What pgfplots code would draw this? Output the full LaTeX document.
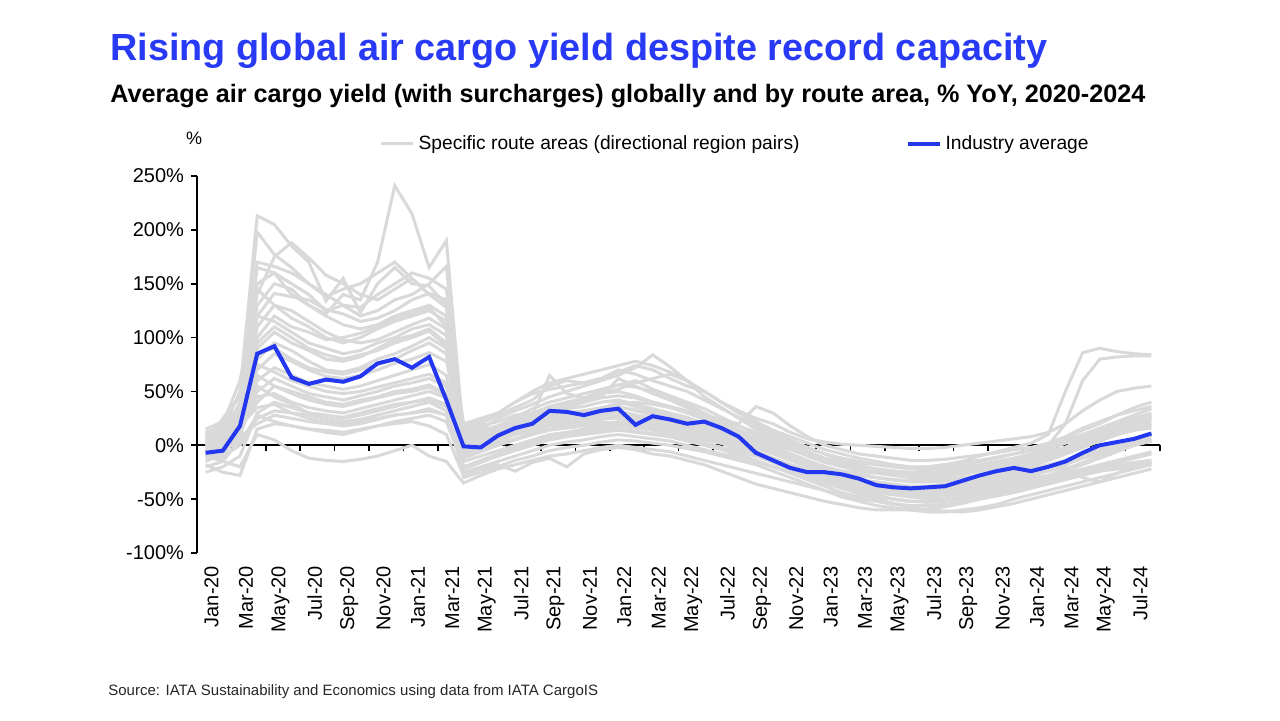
\documentclass[border=0pt]{standalone}
\usepackage{pgfplots}
\pgfplotsset{compat=1.18}
\usepackage{fontspec}
\setmainfont{Liberation Sans}
\definecolor{ttl}{RGB}{40,58,245}
\definecolor{lgray}{RGB}{217,217,217}
\definecolor{avgblue}{RGB}{35,55,240}
\pgfplotsset{gl/.style={lgray, line width=1.5pt, forget plot}}
\newcommand{\gl}[1]{\addplot[gl] table[x expr=\coordindex, y index=0, row sep=\\] {v\\ #1\\};}
\begin{document}
\begin{tikzpicture}
\path[use as bounding box] (0pt,0pt) rectangle (640pt,360pt);
\node[anchor=base west, text=ttl, font=\fontsize{18.9pt}{22pt}\selectfont\bfseries, inner sep=0] at (55pt,330pt) {Rising global air cargo yield despite record capacity};
\node[anchor=base west, text=black, font=\fontsize{12.6pt}{15pt}\selectfont\bfseries, inner sep=0] at (55pt,309pt) {Average air cargo yield (with surcharges) globally and by route area, \% YoY, 2020-2024};
\node[anchor=base west, text=black!85, font=\fontsize{7.5pt}{9pt}\selectfont, inner sep=0] at (54pt,12.5pt) {Source: IATA Sustainability and Economics using data from IATA CargoIS};
\node[anchor=base, font=\fontsize{9pt}{11pt}\selectfont, inner sep=0] at (97pt,288pt) {\%};
% zero line with its ticks
\begin{axis}[at={(98.5pt,83.5pt)}, anchor=south west, scale only axis, width=481.5pt, height=188.5pt,
  xmin=-0.5, xmax=55.5, ymin=-100, ymax=250,
  axis x line*=middle, axis y line=none,
  x axis line style={black, line width=0.8pt},
  xtick={-0.5,1.5,...,55.5}, xticklabels={}, ytick=\empty,
  tick align=outside, major tick length=3pt,
  x tick style={black, line width=0.8pt}]
\end{axis}
\begin{axis}[at={(98.5pt,83.5pt)}, anchor=south west, scale only axis, width=481.5pt, height=188.5pt,
  xmin=-0.5, xmax=55.5, ymin=-100, ymax=250,
  axis y line*=left, axis x line*=bottom,
  x axis line style={draw=none},
  y axis line style={black, line width=0.8pt},
  ytick={-100,-50,...,250},
  yticklabels={-100\%,-50\%,0\%,50\%,100\%,150\%,200\%,250\%},
  tick align=outside, major tick length=3pt,
  y tick style={black, line width=0.8pt},
  x tick style={draw=none},
  xtick={0,2,...,54},
  xticklabels={Jan-20,Mar-20,May-20,Jul-20,Sep-20,Nov-20,Jan-21,Mar-21,May-21,Jul-21,Sep-21,Nov-21,Jan-22,Mar-22,May-22,Jul-22,Sep-22,Nov-22,Jan-23,Mar-23,May-23,Jul-23,Sep-23,Nov-23,Jan-24,Mar-24,May-24,Jul-24},
  tick label style={font=\fontsize{10pt}{12pt}\selectfont},
  x tick label style={rotate=90, anchor=east, yshift=-3pt},
  legend columns=2,
  legend style={at={(0.183,1.085)}, anchor=west, draw=none, fill=none,
    font=\fontsize{9.6pt}{11pt}\selectfont,
    /tikz/every even column/.append style={column sep=51pt}},
  legend cell align=left,
  legend image code/.code={\draw[#1] (0pt,0pt) -- (16pt,0pt);},
  clip=false]
\gl{-5\\ 8\\ 35\\ 150\\ 160\\ 140\\ 130\\ 122\\ 140\\ 135\\ 170\\ 241\\ 215\\ 165\\ 190\\ 8\\ 12\\ 18\\ 22\\ 28\\ 35\\ 38\\ 42\\ 48\\ 50\\ 46\\ 40\\ 36\\ 30\\ 25\\ 20\\ 14\\ 8\\ 0\\ -8\\ -15\\ -20\\ -24\\ -26\\ -30\\ -32\\ -33\\ -31\\ -29\\ -27\\ -24\\ -21\\ -18\\ -14\\ -10\\ -4\\ 4\\ 10\\ 14\\ 17\\ 20}
\gl{5\\ 15\\ 50\\ 213\\ 205\\ 185\\ 170\\ 134\\ 155\\ 123\\ 150\\ 165\\ 150\\ 148\\ 130\\ -5\\ 2\\ 8\\ 15\\ 20\\ 25\\ 22\\ 28\\ 30\\ 32\\ 28\\ 25\\ 22\\ 18\\ 12\\ 8\\ 2\\ -5\\ -12\\ -20\\ -28\\ -35\\ -40\\ -44\\ -47\\ -50\\ -52\\ -52\\ -50\\ -48\\ -45\\ -40\\ -36\\ -32\\ -28\\ -22\\ -16\\ -10\\ -5\\ 0\\ 4}
\gl{0\\ 10\\ 40\\ 198\\ 177\\ 165\\ 150\\ 140\\ 130\\ 120\\ 125\\ 135\\ 140\\ 150\\ 166\\ 10\\ 15\\ 25\\ 32\\ 38\\ 45\\ 50\\ 55\\ 60\\ 65\\ 72\\ 84\\ 73\\ 60\\ 45\\ 35\\ 25\\ 15\\ 8\\ 2\\ -3\\ -8\\ -12\\ -15\\ -18\\ -20\\ -21\\ -20\\ -18\\ -15\\ -10\\ -6\\ -2\\ 2\\ 10\\ 50\\ 86\\ 90\\ 87\\ 85\\ 84}
\gl{-10\\ 5\\ 30\\ 170\\ 166\\ 160\\ 150\\ 138\\ 145\\ 150\\ 160\\ 170\\ 155\\ 140\\ 135\\ 12\\ 18\\ 22\\ 28\\ 30\\ 32\\ 30\\ 28\\ 26\\ 25\\ 22\\ 20\\ 18\\ 15\\ 12\\ 10\\ 6\\ 2\\ -4\\ -10\\ -16\\ -22\\ -28\\ -32\\ -35\\ -38\\ -40\\ -40\\ -39\\ -37\\ -35\\ -32\\ -28\\ -25\\ -20\\ -15\\ -10\\ -4\\ 2\\ 6\\ 10}
\gl{10\\ 20\\ 60\\ 140\\ 175\\ 188\\ 174\\ 158\\ 150\\ 140\\ 135\\ 145\\ 155\\ 140\\ 128\\ 5\\ 10\\ 16\\ 20\\ 24\\ 30\\ 35\\ 40\\ 45\\ 62\\ 55\\ 48\\ 42\\ 35\\ 28\\ 22\\ 18\\ 12\\ 6\\ 0\\ -6\\ -12\\ -16\\ -20\\ -22\\ -24\\ -25\\ -24\\ -22\\ -20\\ -18\\ -15\\ -12\\ -8\\ 0\\ 20\\ 60\\ 80\\ 82\\ 83\\ 83}
\gl{-15\\ -8\\ 10\\ 120\\ 141\\ 138\\ 135\\ 126\\ 122\\ 115\\ 118\\ 125\\ 135\\ 141\\ 135\\ -10\\ -5\\ 0\\ 5\\ 10\\ 15\\ 18\\ 20\\ 22\\ 20\\ 18\\ 15\\ 12\\ 8\\ 5\\ 2\\ -2\\ -8\\ -14\\ -20\\ -26\\ -32\\ -38\\ -42\\ -46\\ -50\\ -52\\ -53\\ -52\\ -50\\ -47\\ -44\\ -40\\ -36\\ -32\\ -28\\ -24\\ -20\\ -16\\ -12\\ -8}
\gl{8\\ 15\\ 25\\ 100\\ 120\\ 110\\ 105\\ 98\\ 100\\ 104\\ 110\\ 118\\ 122\\ 128\\ 110\\ 15\\ 20\\ 28\\ 35\\ 42\\ 55\\ 60\\ 58\\ 62\\ 68\\ 74\\ 70\\ 62\\ 55\\ 50\\ 40\\ 32\\ 25\\ 20\\ 12\\ 6\\ 3\\ 1\\ 0\\ -1\\ -2\\ -3\\ -3\\ -2\\ 0\\ 2\\ 4\\ 6\\ 8\\ 12\\ 20\\ 32\\ 42\\ 50\\ 53\\ 55}
\gl{-20\\ -15\\ 5\\ 90\\ 105\\ 95\\ 88\\ 80\\ 78\\ 82\\ 90\\ 98\\ 102\\ 108\\ 95\\ -20\\ -15\\ -10\\ -5\\ 0\\ 5\\ 8\\ 10\\ 12\\ 14\\ 12\\ 10\\ 8\\ 5\\ 2\\ -2\\ -6\\ -10\\ -16\\ -22\\ -28\\ -34\\ -40\\ -45\\ -50\\ -54\\ -58\\ -60\\ -61\\ -62\\ -60\\ -57\\ -54\\ -50\\ -46\\ -42\\ -38\\ -34\\ -30\\ -26\\ -22}
\gl{5\\ 0\\ 15\\ 80\\ 95\\ 88\\ 78\\ 70\\ 68\\ 72\\ 80\\ 85\\ 92\\ 100\\ 90\\ 0\\ 8\\ 12\\ 18\\ 22\\ 28\\ 30\\ 32\\ 35\\ 38\\ 40\\ 38\\ 35\\ 30\\ 24\\ 18\\ 12\\ 5\\ -2\\ -8\\ -14\\ -20\\ -25\\ -28\\ -30\\ -32\\ -34\\ -34\\ -33\\ -31\\ -28\\ -24\\ -20\\ -16\\ -12\\ -6\\ 2\\ 8\\ 14\\ 20\\ 26}
\gl{-5\\ 5\\ 20\\ 60\\ 72\\ 65\\ 58\\ 55\\ 52\\ 55\\ 60\\ 65\\ 70\\ 75\\ 65\\ -8\\ -2\\ 5\\ 10\\ 15\\ 20\\ 22\\ 25\\ 28\\ 30\\ 28\\ 25\\ 22\\ 18\\ 14\\ 10\\ 5\\ -2\\ -8\\ -14\\ -20\\ -26\\ -30\\ -34\\ -36\\ -38\\ -40\\ -40\\ -38\\ -36\\ -33\\ -30\\ -26\\ -22\\ -18\\ -14\\ -10\\ -6\\ -2\\ 2\\ 6}
\gl{0\\ -5\\ 10\\ 50\\ 62\\ 55\\ 48\\ 45\\ 42\\ 46\\ 50\\ 55\\ 58\\ 62\\ 55\\ -15\\ -10\\ -5\\ 0\\ 5\\ 10\\ 12\\ 15\\ 18\\ 20\\ 18\\ 16\\ 14\\ 10\\ 6\\ 2\\ -4\\ -10\\ -16\\ -22\\ -28\\ -32\\ -36\\ -40\\ -42\\ -44\\ -46\\ -46\\ -45\\ -43\\ -40\\ -37\\ -34\\ -30\\ -28\\ -26\\ -24\\ -22\\ -20\\ -18\\ -16}
\gl{12\\ 18\\ 30\\ 130\\ 150\\ 145\\ 130\\ 120\\ 112\\ 108\\ 112\\ 120\\ 125\\ 130\\ 120\\ 20\\ 25\\ 30\\ 40\\ 48\\ 52\\ 55\\ 58\\ 62\\ 70\\ 66\\ 60\\ 55\\ 50\\ 42\\ 34\\ 26\\ 18\\ 10\\ 4\\ -2\\ -8\\ -12\\ -16\\ -18\\ -20\\ -22\\ -22\\ -20\\ -18\\ -15\\ -12\\ -8\\ -4\\ 0\\ 6\\ 14\\ 20\\ 28\\ 35\\ 40}
\gl{-25\\ -20\\ -10\\ 30\\ 40\\ 35\\ 30\\ 28\\ 25\\ 28\\ 32\\ 36\\ 40\\ 44\\ 38\\ -30\\ -25\\ -20\\ -14\\ -10\\ -5\\ -2\\ 0\\ 3\\ 5\\ 4\\ 2\\ 0\\ -3\\ -6\\ -10\\ -14\\ -18\\ -24\\ -30\\ -36\\ -42\\ -48\\ -52\\ -56\\ -58\\ -60\\ -62\\ -62\\ -60\\ -58\\ -55\\ -50\\ -46\\ -42\\ -38\\ -34\\ -30\\ -26\\ -22\\ -18}
\gl{-10\\ -15\\ -20\\ 10\\ 5\\ -5\\ -12\\ -14\\ -15\\ -13\\ -10\\ -5\\ 0\\ -10\\ -15\\ -35\\ -28\\ -22\\ -18\\ -14\\ -10\\ -8\\ -5\\ -2\\ 0\\ -2\\ -4\\ -6\\ -10\\ -14\\ -18\\ -22\\ -26\\ -30\\ -34\\ -38\\ -42\\ -46\\ -50\\ -52\\ -54\\ -56\\ -56\\ -55\\ -53\\ -50\\ -47\\ -44\\ -40\\ -36\\ -32\\ -28\\ -24\\ -20\\ -16\\ -14}
\gl{0\\ 5\\ 15\\ 40\\ 55\\ 50\\ 45\\ 40\\ 38\\ 42\\ 45\\ 50\\ 52\\ 56\\ 48\\ 5\\ 10\\ 15\\ 20\\ 25\\ 28\\ 30\\ 32\\ 30\\ 28\\ 26\\ 24\\ 20\\ 16\\ 12\\ 8\\ 4\\ 0\\ -5\\ -10\\ -15\\ -20\\ -24\\ -28\\ -30\\ -32\\ -33\\ -33\\ -32\\ -30\\ -28\\ -25\\ -22\\ -18\\ -12\\ -6\\ 0\\ 6\\ 12\\ 18\\ 24}
\gl{-8\\ -2\\ 8\\ 20\\ 28\\ 25\\ 22\\ 20\\ 18\\ 20\\ 24\\ 28\\ 30\\ 34\\ 28\\ -25\\ -20\\ -15\\ -10\\ -5\\ 0\\ 3\\ 5\\ 8\\ 10\\ 8\\ 6\\ 4\\ 0\\ -4\\ -8\\ -12\\ -16\\ -20\\ -25\\ -30\\ -35\\ -40\\ -44\\ -48\\ -50\\ -52\\ -52\\ -50\\ -48\\ -46\\ -43\\ -40\\ -36\\ -30\\ -24\\ -18\\ -12\\ -6\\ 0\\ 5}
\gl{3\\ 10\\ 22\\ 70\\ 85\\ 78\\ 70\\ 64\\ 62\\ 65\\ 70\\ 76\\ 80\\ 86\\ 78\\ 10\\ 14\\ 18\\ 24\\ 30\\ 36\\ 40\\ 44\\ 48\\ 52\\ 58\\ 62\\ 66\\ 60\\ 50\\ 40\\ 30\\ 20\\ 12\\ 5\\ -2\\ -8\\ -14\\ -18\\ -22\\ -24\\ -26\\ -26\\ -25\\ -23\\ -20\\ -16\\ -12\\ -8\\ -4\\ 2\\ 8\\ 14\\ 20\\ 25\\ 30}
\gl{-12\\ -6\\ 5\\ 110\\ 130\\ 125\\ 115\\ 105\\ 98\\ 95\\ 98\\ 105\\ 112\\ 118\\ 108\\ -5\\ 0\\ 6\\ 12\\ 18\\ 24\\ 28\\ 30\\ 33\\ 35\\ 33\\ 30\\ 26\\ 22\\ 18\\ 12\\ 6\\ 0\\ -6\\ -12\\ -18\\ -24\\ -30\\ -35\\ -40\\ -44\\ -48\\ -50\\ -50\\ -48\\ -45\\ -42\\ -38\\ -34\\ -30\\ -26\\ -22\\ -18\\ -14\\ -10\\ -6}
\gl{6\\ 12\\ 18\\ 45\\ 48\\ 40\\ 35\\ 32\\ 30\\ 34\\ 38\\ 42\\ 46\\ 50\\ 44\\ 2\\ 6\\ 10\\ 14\\ 18\\ 22\\ 26\\ 30\\ 34\\ 36\\ 32\\ 28\\ 24\\ 20\\ 16\\ 12\\ 8\\ 4\\ 0\\ -4\\ -8\\ -12\\ -16\\ -20\\ -22\\ -24\\ -26\\ -26\\ -25\\ -23\\ -20\\ -17\\ -14\\ -10\\ -6\\ -2\\ 4\\ 10\\ 16\\ 22\\ 28}
\gl{-18\\ -25\\ -28\\ 15\\ 20\\ 18\\ 15\\ 12\\ 10\\ 14\\ 18\\ 22\\ 25\\ 28\\ 22\\ -20\\ -14\\ -8\\ -2\\ 4\\ 8\\ 12\\ 14\\ 16\\ 18\\ 16\\ 14\\ 10\\ 6\\ 2\\ -2\\ -8\\ -14\\ -20\\ -26\\ -32\\ -38\\ -44\\ -48\\ -52\\ -55\\ -56\\ -56\\ -55\\ -53\\ -50\\ -46\\ -42\\ -38\\ -34\\ -30\\ -26\\ -22\\ -18\\ -16\\ -14}
\gl{2\\ 25\\ 45\\ 165\\ 160\\ 150\\ 140\\ 125\\ 130\\ 128\\ 140\\ 150\\ 160\\ 155\\ 145\\ 18\\ 22\\ 30\\ 40\\ 50\\ 58\\ 62\\ 66\\ 70\\ 74\\ 78\\ 74\\ 68\\ 60\\ 50\\ 40\\ 30\\ 22\\ 14\\ 8\\ 2\\ -4\\ -8\\ -12\\ -15\\ -18\\ -20\\ -20\\ -18\\ -16\\ -14\\ -11\\ -8\\ -5\\ -2\\ 4\\ 10\\ 16\\ 22\\ 28\\ 34}
\gl{-5\\ 2\\ 12\\ 85\\ 90\\ 80\\ 72\\ 68\\ 66\\ 70\\ 75\\ 80\\ 88\\ 95\\ 85\\ -12\\ -6\\ 0\\ 6\\ 12\\ 18\\ 20\\ 22\\ 24\\ 26\\ 24\\ 22\\ 18\\ 14\\ 10\\ 6\\ 0\\ -6\\ -12\\ -18\\ -24\\ -30\\ -34\\ -38\\ -40\\ -42\\ -44\\ -44\\ -43\\ -41\\ -38\\ -35\\ -32\\ -28\\ -24\\ -18\\ -12\\ -6\\ 0\\ 4\\ 8}
\gl{10\\ 5\\ 20\\ 55\\ 45\\ 38\\ 30\\ 28\\ 26\\ 30\\ 34\\ 38\\ 40\\ 42\\ 36\\ 8\\ 12\\ 16\\ 20\\ 26\\ 32\\ 36\\ 40\\ 44\\ 46\\ 44\\ 40\\ 36\\ 32\\ 28\\ 24\\ 20\\ 36\\ 30\\ 18\\ 8\\ 0\\ -4\\ -8\\ -10\\ -12\\ -14\\ -14\\ -13\\ -11\\ -9\\ -7\\ -4\\ -2\\ 2\\ 8\\ 16\\ 22\\ 28\\ 32\\ 36}
\gl{-3\\ -10\\ 0\\ 25\\ 32\\ 30\\ 28\\ 25\\ 22\\ 24\\ 28\\ 32\\ 36\\ 40\\ 32\\ -22\\ -16\\ -10\\ -4\\ 2\\ 6\\ 10\\ 12\\ 14\\ 15\\ 13\\ 11\\ 8\\ 4\\ 0\\ -4\\ -10\\ -14\\ -20\\ -25\\ -30\\ -34\\ -38\\ -42\\ -44\\ -46\\ -48\\ -48\\ -47\\ -45\\ -42\\ -38\\ -35\\ -32\\ -30\\ -28\\ -26\\ -24\\ -22\\ -20\\ -18}
\gl{4\\ 8\\ 28\\ 120\\ 115\\ 105\\ 95\\ 90\\ 85\\ 88\\ 95\\ 100\\ 108\\ 112\\ 102\\ 0\\ 5\\ 10\\ 16\\ 22\\ 30\\ 34\\ 36\\ 40\\ 42\\ 38\\ 34\\ 30\\ 26\\ 20\\ 14\\ 8\\ 2\\ -4\\ -10\\ -16\\ -22\\ -28\\ -32\\ -34\\ -36\\ -38\\ -38\\ -36\\ -34\\ -31\\ -28\\ -24\\ -20\\ -14\\ -8\\ -2\\ 4\\ 10\\ 14\\ 18}
\gl{-2\\ 3\\ 18\\ 35\\ 38\\ 30\\ 25\\ 22\\ 20\\ 22\\ 25\\ 28\\ 30\\ 32\\ 28\\ -8\\ -2\\ 2\\ 6\\ 10\\ 14\\ 16\\ 18\\ 20\\ 22\\ 20\\ 18\\ 14\\ 10\\ 6\\ 2\\ -3\\ -8\\ -14\\ -20\\ -24\\ -28\\ -32\\ -36\\ -38\\ -40\\ -42\\ -42\\ -41\\ -39\\ -36\\ -33\\ -30\\ -26\\ -24\\ -20\\ -30\\ -34\\ -26\\ -20\\ -16}
\gl{2\\ 6\\ 14\\ 65\\ 55\\ 48\\ 42\\ 38\\ 36\\ 40\\ 44\\ 48\\ 50\\ 54\\ 46\\ -6\\ 0\\ 4\\ 10\\ 14\\ 20\\ 24\\ 22\\ 26\\ 28\\ 24\\ 20\\ 16\\ 12\\ 8\\ 4\\ 0\\ -6\\ -12\\ -18\\ -22\\ -28\\ -32\\ -34\\ -36\\ -38\\ -39\\ -39\\ -38\\ -36\\ -34\\ -30\\ -27\\ -24\\ -20\\ -16\\ -12\\ -8\\ -4\\ 0\\ 4}
\gl{-6\\ 0\\ 10\\ 95\\ 110\\ 100\\ 90\\ 84\\ 80\\ 84\\ 88\\ 95\\ 100\\ 106\\ 92\\ -2\\ 4\\ 12\\ 20\\ 28\\ 65\\ 48\\ 44\\ 50\\ 56\\ 60\\ 52\\ 46\\ 40\\ 34\\ 26\\ 18\\ 10\\ 4\\ -2\\ -8\\ -14\\ -18\\ -22\\ -24\\ -26\\ -28\\ -28\\ -27\\ -25\\ -22\\ -19\\ -16\\ -12\\ -8\\ -2\\ 6\\ 12\\ 18\\ 22\\ 26}
\gl{15\\ 22\\ 35\\ 75\\ 68\\ 60\\ 55\\ 50\\ 48\\ 50\\ 54\\ 58\\ 62\\ 66\\ 58\\ 4\\ 8\\ 14\\ 18\\ 22\\ 26\\ 28\\ 30\\ 34\\ 40\\ 36\\ 32\\ 28\\ 24\\ 20\\ 16\\ 12\\ 8\\ 2\\ -4\\ -10\\ -16\\ -20\\ -24\\ -26\\ -28\\ -30\\ -30\\ -29\\ -27\\ -24\\ -21\\ -18\\ -14\\ -8\\ -2\\ 4\\ 10\\ 16\\ 20\\ 22}
\gl{-8\\ -12\\ 2\\ 28\\ 22\\ 18\\ 15\\ 14\\ 12\\ 15\\ 18\\ 20\\ 22\\ 18\\ 10\\ -28\\ -22\\ -18\\ -24\\ -16\\ -12\\ -20\\ -8\\ -4\\ -2\\ -4\\ -8\\ -10\\ -14\\ -18\\ -24\\ -30\\ -36\\ -40\\ -44\\ -48\\ -52\\ -55\\ -58\\ -60\\ -60\\ -60\\ -59\\ -57\\ -54\\ -50\\ -46\\ -42\\ -38\\ -34\\ -30\\ -26\\ -22\\ -20\\ -18\\ -16}
\gl{0\\ 12\\ 30\\ 145\\ 130\\ 118\\ 110\\ 100\\ 95\\ 100\\ 108\\ 115\\ 120\\ 125\\ 115\\ 6\\ 12\\ 18\\ 26\\ 34\\ 40\\ 44\\ 48\\ 52\\ 56\\ 54\\ 50\\ 44\\ 38\\ 30\\ 22\\ 14\\ 5\\ -2\\ -8\\ -14\\ -20\\ -24\\ -28\\ -30\\ -32\\ -34\\ -34\\ -33\\ -31\\ -28\\ -25\\ -22\\ -18\\ -14\\ -8\\ -2\\ 4\\ 10\\ 14\\ 16}
\addlegendimage{lgray, line width=1.5pt}
\addlegendentry{Specific route areas (directional region pairs)}
\addplot[avgblue, line width=2pt] table[x expr=\coordindex, y index=0, row sep=\\] {v\\ -7\\ -5\\ 18\\ 85\\ 92\\ 63\\ 57\\ 61\\ 59\\ 64\\ 76\\ 80\\ 72\\ 82\\ 42\\ -1\\ -2\\ 9\\ 16\\ 20\\ 32\\ 31\\ 28\\ 32\\ 34\\ 19\\ 27\\ 24\\ 20\\ 22\\ 16\\ 8\\ -7\\ -14\\ -21\\ -25\\ -25\\ -27\\ -31\\ -37\\ -39\\ -40\\ -39\\ -38\\ -33\\ -28\\ -24\\ -21\\ -24\\ -20\\ -15\\ -7\\ 0\\ 3\\ 6\\ 11\\};
\addlegendentry{Industry average}
\end{axis}
\end{tikzpicture}
\end{document}
